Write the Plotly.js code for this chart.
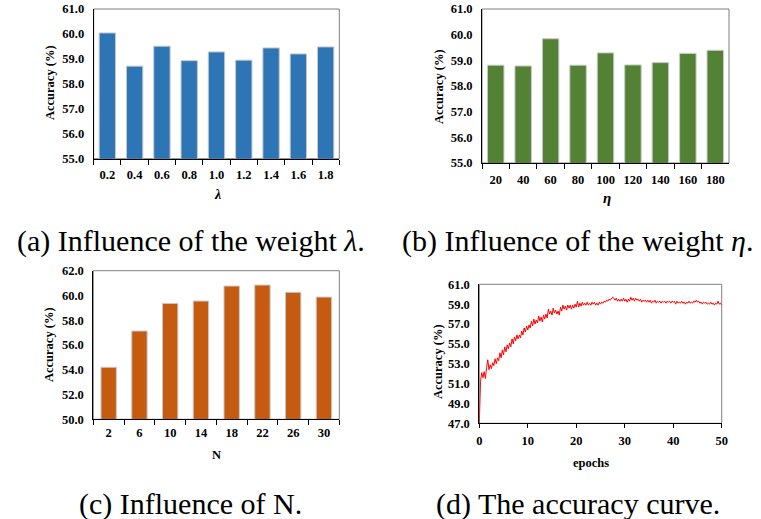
<!DOCTYPE html>
<html>
<head>
<meta charset="utf-8">
<script src="https://cdn.plot.ly/plotly-3.0.1.min.js"></script>
<style>html,body{margin:0;padding:0;background:#fff;}#chart{width:761px;height:519px;}</style>
</head>
<body>
<div id="chart"></div>
<script>
// ---- data ----
const lambdaCats = ['0.2','0.4','0.6','0.8','1.0','1.2','1.4','1.6','1.8'];
const lambdaAcc  = [60.04, 58.71, 59.51, 58.93, 59.28, 58.95, 59.44, 59.20, 59.48];
const etaCats = ['20','40','60','80','100','120','140','160','180'];
const etaAcc  = [58.81, 58.78, 59.84, 58.81, 59.29, 58.82, 58.91, 59.27, 59.39];
const nCats = ['2','6','10','14','18','22','26','30'];
const nAcc  = [54.20, 57.13, 59.36, 59.55, 60.76, 60.84, 60.25, 59.87];
// accuracy per quarter epoch (epoch 0 .. 50)
const epochAcc = [
 47.0,51.2,52.1,51.6,52.2,51.5,52.6,53.4,52.4,52.9,
 52.5,53.1,52.8,53.5,53.0,53.6,53.3,54.1,53.6,54.4,
 53.9,54.7,54.2,54.9,54.5,55.1,54.7,55.5,55.0,55.7,
 55.3,55.9,55.5,55.9,55.6,56.3,55.9,56.6,56.2,56.8,
 56.4,56.9,56.6,57.3,56.8,57.5,57.0,57.4,57.1,57.8,
 57.3,57.7,57.2,57.9,57.5,58.0,57.6,58.5,58.0,58.3,
 57.9,58.6,58.1,58.4,58.0,58.3,57.9,58.7,58.3,58.9,
 58.5,58.8,58.4,58.9,58.6,58.9,58.5,58.9,58.6,59.0,
 58.7,59.3,58.7,59.1,58.8,59.2,58.9,59.1,58.9,59.2,
 58.9,59.1,58.9,59.2,59.0,59.2,58.9,59.1,58.9,59.2,
 59.0,59.2,59.1,59.3,59.2,59.4,59.3,59.5,59.4,59.6,
 59.7,59.6,59.4,59.6,59.3,59.5,59.3,59.5,59.3,59.6,
 59.3,59.5,59.2,59.5,59.3,59.7,59.4,59.6,59.3,59.6,
 59.4,59.5,59.3,59.5,59.2,59.4,59.3,59.4,59.2,59.4,
 59.2,59.4,59.1,59.3,59.2,59.4,59.1,59.3,59.2,59.3,
 59.1,59.3,59.2,59.3,59.1,59.3,59.2,59.3,59.1,59.3,
 59.2,59.3,59.0,59.3,59.1,59.2,59.1,59.3,59.1,59.2,
 59.0,59.2,59.1,59.3,59.1,59.2,59.1,59.3,59.2,59.4,
 59.2,59.3,59.1,59.2,59.0,59.2,59.1,59.2,59.0,59.1,
 59.0,59.2,59.0,59.1,58.9,59.1,59.0,59.3,59.0,59.1,
 58.9
];
const captions = ['(a) Influence of the weight <i>λ</i>.', '(b) Influence of the weight <i>η</i>.',
                  '(c) Influence of N.', '(d) The accuracy curve.'];

// ---- layout helpers ----
const W = 761, H = 519;
const px = v => v / W, py = v => 1 - v / H;
const SERIF = 'Liberation Serif';
const tickFont = {family: SERIF, size: 12.5, color: '#000', weight: 700};

function xCat(l, r, standoff) {
  return {domain: [px(l), px(r)], type: 'category', showline: true, linecolor: '#000', linewidth: 1,
          ticks: 'outside', ticklen: 5, tickcolor: '#000', tickson: 'boundaries', tickangle: 0,
          showgrid: false, zeroline: false, tickfont: tickFont, ticklabelstandoff: standoff, fixedrange: true};
}
function yLin(t, b, range, dtick, anchor) {
  return {domain: [py(b), py(t)], range: range, dtick: dtick, tick0: range[0], tickformat: '.1f',
          showline: true, linecolor: '#000', linewidth: 1, ticks: '', showgrid: false, zeroline: false,
          tickfont: tickFont, ticklabelstandoff: 6, anchor: anchor, fixedrange: true};
}

const barLine = {color: '#c8c8c8', width: 1};
const traces = [
  {type: 'bar', x: lambdaCats, y: lambdaAcc, xaxis: 'x', yaxis: 'y', marker: {color: '#2E75B6', line: barLine}, hoverinfo: 'none'},
  {type: 'bar', x: etaCats, y: etaAcc, xaxis: 'x2', yaxis: 'y2', marker: {color: '#548235', line: barLine}, hoverinfo: 'none'},
  {type: 'bar', x: nCats, y: nAcc, xaxis: 'x3', yaxis: 'y3', marker: {color: '#C55A11', line: barLine}, hoverinfo: 'none', width: 0.5},
  {type: 'scatter', mode: 'lines', x0: 0, dx: 0.25, y: epochAcc, xaxis: 'x4', yaxis: 'y4',
   line: {color: '#FF0000', width: 1}, hoverinfo: 'none'}
];

const boxes = [['x','y'],['x2','y2'],['x3','y3'],['x4','y4']].map(([xa, ya]) => ({
  type: 'rect', xref: xa + ' domain', yref: ya + ' domain', x0: 0, x1: 1, y0: 0, y1: 1,
  line: {color: '#7f7f7f', width: 1}, layer: 'below'
}));

function ann(text, x, y, size, opts) {
  return Object.assign({text: text, x: px(x), y: py(y), xref: 'paper', yref: 'paper', showarrow: false,
    xanchor: 'center', yanchor: 'middle', font: {family: SERIF, size: size, color: '#000'}}, opts || {});
}
const boldTitle = {family: SERIF, size: 12.5, color: '#000', weight: 700};
const annotations = [
  ann('Accuracy (%)', 50, 83, 12.5, {textangle: -90, font: boldTitle}),
  ann('Accuracy (%)', 439, 87, 12.5, {textangle: -90, font: boldTitle}),
  ann('Accuracy (%)', 49, 345, 12.5, {textangle: -90, font: boldTitle}),
  ann('Accuracy (%)', 438, 362, 12.5, {textangle: -90, font: boldTitle}),
  ann('<i>λ</i>', 217, 194, 14, {font: {family: SERIF, size: 14, color: '#000', weight: 700}}),
  ann('<i>η</i>', 607, 198, 15, {font: {family: SERIF, size: 15, color: '#000', weight: 700}}),
  ann('N', 216, 455, 12.5, {font: boldTitle}),
  ann('epochs', 591, 463, 12.5, {font: boldTitle}),
  ann(captions[0], 191, 241, 30),
  ann(captions[1], 577, 241, 30),
  ann(captions[2], 190, 504, 30),
  ann(captions[3], 578, 504, 30)
];

const layout = {
  width: W, height: H, margin: {l: 0, r: 0, t: 0, b: 0}, showlegend: false,
  paper_bgcolor: '#fff', plot_bgcolor: 'rgba(0,0,0,0)', bargap: 0.4,
  xaxis:  xCat(93.7, 339.3, 4),
  yaxis:  yLin(9, 158.7, [55, 61], 1, 'x'),
  xaxis2: Object.assign(xCat(482, 729, 5), {anchor: 'y2'}),
  yaxis2: yLin(9, 163, [55, 61], 1, 'x2'),
  xaxis3: Object.assign(xCat(93.3, 339.3, 2), {anchor: 'y3'}),
  yaxis3: yLin(270.7, 419.3, [50, 62], 2, 'x3'),
  xaxis4: {domain: [px(479.3), px(721.7)], range: [0, 50], dtick: 10, anchor: 'y4', showline: true, linecolor: '#000',
           ticks: 'outside', ticklen: 4, tickcolor: '#000', showgrid: false, zeroline: false, tickfont: tickFont,
           ticklabelstandoff: 2, fixedrange: true},
  yaxis4: yLin(284.3, 423.3, [47, 61], 2, 'x4'),
  shapes: boxes,
  annotations: annotations
};
layout.xaxis.anchor = 'y';

Plotly.newPlot('chart', traces, layout, {displayModeBar: false, staticPlot: true});
</script>
</body>
</html>
